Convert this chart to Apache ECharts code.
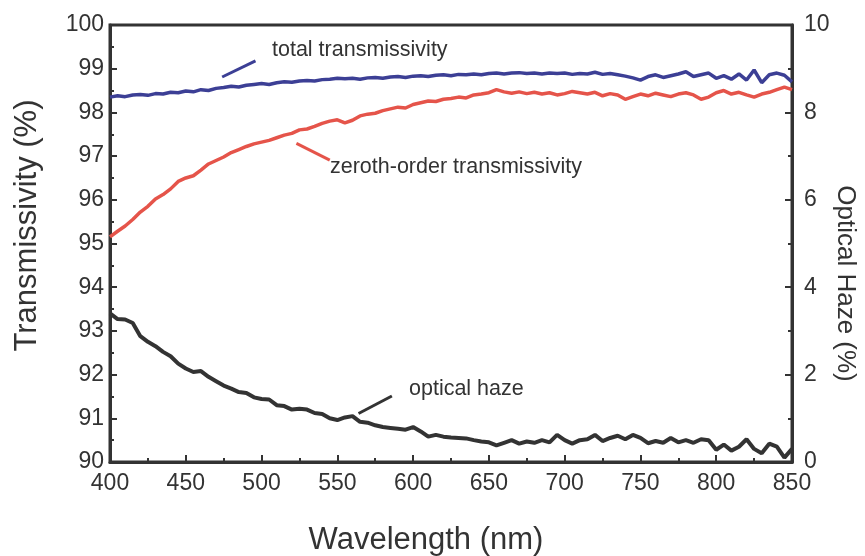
<!DOCTYPE html>
<html><head><meta charset="utf-8">
<script src="https://cdn.jsdelivr.net/npm/echarts@6/dist/echarts.min.js"></script>
<style>html,body{margin:0;padding:0;background:#fff}#c{width:865px;height:556px}</style>
</head><body><div id="c"></div>
<script>
const wavelengths = [];
for (let w = 400; w <= 850; w += 5) wavelengths.push(w);

const totalTrans = [98.35,98.38,98.36,98.40,98.41,98.39,98.43,98.42,98.46,98.45,
98.49,98.47,98.52,98.50,98.55,98.57,98.60,98.58,98.62,98.64,
98.66,98.64,98.68,98.70,98.69,98.72,98.73,98.72,98.75,98.76,
98.78,98.77,98.78,98.76,98.79,98.80,98.78,98.81,98.82,98.80,
98.83,98.84,98.82,98.85,98.86,98.84,98.87,98.86,98.88,98.86,
98.89,98.90,98.88,98.90,98.91,98.89,98.90,98.88,98.90,98.89,
98.90,98.87,98.89,98.88,98.92,98.87,98.89,98.86,98.83,98.79,
98.74,98.82,98.86,98.80,98.84,98.88,98.93,98.82,98.86,98.90,
98.78,98.84,98.76,98.88,98.74,98.97,98.68,98.86,98.90,98.85,98.70];

const zerothTrans = [95.15,95.28,95.40,95.55,95.72,95.85,96.02,96.12,96.25,96.42,
96.50,96.55,96.68,96.82,96.90,96.98,97.08,97.15,97.22,97.28,
97.32,97.36,97.42,97.48,97.52,97.60,97.62,97.68,97.75,97.80,
97.83,97.76,97.82,97.92,97.96,97.98,98.04,98.08,98.12,98.10,
98.18,98.22,98.26,98.25,98.30,98.32,98.35,98.33,98.40,98.42,
98.45,98.52,98.47,98.44,98.47,98.43,98.46,98.42,98.45,98.40,
98.43,98.48,98.45,98.42,98.46,98.38,98.43,98.40,98.30,98.36,
98.42,98.38,98.44,98.40,98.36,98.42,98.45,98.40,98.30,98.35,
98.45,98.50,98.42,98.46,98.40,98.35,98.42,98.46,98.52,98.58,98.52];

const opticalHaze = [3.40,3.27,3.26,3.18,2.88,2.75,2.65,2.52,2.42,2.25,
2.14,2.06,2.08,1.95,1.85,1.75,1.68,1.60,1.58,1.48,
1.44,1.43,1.30,1.28,1.20,1.22,1.20,1.12,1.10,1.00,
0.96,1.02,1.05,0.92,0.90,0.84,0.80,0.78,0.76,0.74,
0.80,0.70,0.58,0.62,0.58,0.56,0.55,0.54,0.50,0.47,
0.45,0.38,0.44,0.50,0.42,0.47,0.44,0.50,0.45,0.62,
0.50,0.42,0.50,0.52,0.62,0.48,0.55,0.60,0.52,0.62,
0.55,0.43,0.48,0.44,0.55,0.45,0.50,0.44,0.52,0.50,
0.28,0.40,0.26,0.35,0.52,0.30,0.20,0.42,0.35,0.10,0.30];

const xTicks = [400,450,500,550,600,650,700,750,800,850];
const leftTicks = [90,91,92,93,94,95,96,97,98,99,100];
const rightTicks = [0,2,4,6,8,10];

const FONT = 'Liberation Sans, Arial, Helvetica, sans-serif';
const AX = '#333';
const BLUE = '#3c3f95', RED = '#e5544a', BLACK = '#333333';

const pair = arr => wavelengths.map((w, i) => [w, arr[i]]);
const leader = (a, b, color) => ({
  silent: true, symbol: ['none','none'], label: {show: false},
  lineStyle: {color: color, width: 3, type: 'solid'},
  data: [[{coord: a}, {coord: b}]]
});

const chart = echarts.init(document.getElementById('c'), null, {renderer: 'canvas'});
chart.setOption({
  animation: false,
  backgroundColor: '#fff',
  textStyle: {fontFamily: FONT},
  grid: {left: 110, right: 73, top: 25, bottom: 94, containLabel: false, outerBoundsMode: 'none',
         show: true, borderColor: AX, borderWidth: 3},
  xAxis: {
    type: 'value', min: xTicks[0], max: xTicks[xTicks.length-1], interval: 50,
    name: 'Wavelength (nm)', nameLocation: 'middle', nameGap: 63, nameMoveOverlap: false,
    nameTextStyle: {fontSize: 31, color: AX, fontFamily: FONT, padding: [0, 50, 0, 0]},
    axisLine: {lineStyle: {color: AX, width: 3}},
    axisTick: {inside: true, length: 7, lineStyle: {color: AX, width: 2}},
    minorTick: {show: true, splitNumber: 2, length: 4, lineStyle: {color: AX, width: 2}},
    axisLabel: {fontSize: 23, color: AX, margin: 10, fontFamily: FONT},
    splitLine: {show: false}
  },
  yAxis: [{
    type: 'value', min: leftTicks[0], max: leftTicks[leftTicks.length-1], interval: 1,
    name: 'Transmissivity (%)', nameLocation: 'middle', nameGap: 67, nameMoveOverlap: false,
    nameTextStyle: {fontSize: 31, color: AX, fontFamily: FONT, padding: [0, 0, 0, 36]},
    axisLine: {show: true, lineStyle: {color: AX, width: 3}},
    axisTick: {inside: true, length: 7, lineStyle: {color: AX, width: 2}},
    minorTick: {show: true, splitNumber: 2, length: 4, lineStyle: {color: AX, width: 2}},
    axisLabel: {fontSize: 23, color: AX, margin: 6, fontFamily: FONT},
    splitLine: {show: false}
  }, {
    type: 'value', position: 'right', min: rightTicks[0], max: rightTicks[rightTicks.length-1], interval: 2,
    name: 'Optical Haze (%)', nameLocation: 'middle', nameGap: 40, nameRotate: -90, nameMoveOverlap: false,
    nameTextStyle: {fontSize: 26, color: AX, fontFamily: FONT, padding: [0, 0, 0, 80]},
    axisLine: {show: true, lineStyle: {color: AX, width: 3}},
    axisTick: {inside: true, length: 7, lineStyle: {color: AX, width: 2}},
    minorTick: {show: true, splitNumber: 2, length: 4, lineStyle: {color: AX, width: 2}},
    axisLabel: {fontSize: 23, color: AX, margin: 12, fontFamily: FONT},
    splitLine: {show: false}
  }],
  series: [{
    name: 'total transmissivity', type: 'line', yAxisIndex: 0, data: pair(totalTrans),
    showSymbol: false, lineStyle: {color: BLUE, width: 3.5}, itemStyle: {color: BLUE},
    markLine: leader([474, 98.81], [496, 99.18], BLUE)
  }, {
    name: 'zeroth-order transmissivity', type: 'line', yAxisIndex: 0, data: pair(zerothTrans),
    showSymbol: false, lineStyle: {color: RED, width: 3.5}, itemStyle: {color: RED},
    markLine: leader([523, 97.29], [545, 96.91], RED)
  }, {
    name: 'optical haze', type: 'line', yAxisIndex: 1, data: pair(opticalHaze),
    showSymbol: false, lineStyle: {color: BLACK, width: 4}, itemStyle: {color: BLACK},
    markLine: leader([564, 1.11], [586, 1.51], BLACK)
  }],
  graphic: [
    {type: 'text', left: 272, top: 39, style: {text: 'total transmissivity', font: '21.5px ' + FONT, fill: AX}},
    {type: 'text', left: 330, top: 156, style: {text: 'zeroth-order transmissivity', font: '21.5px ' + FONT, fill: AX}},
    {type: 'text', left: 409, top: 378, style: {text: 'optical haze', font: '21.5px ' + FONT, fill: AX}}
  ]
});
</script></body></html>
